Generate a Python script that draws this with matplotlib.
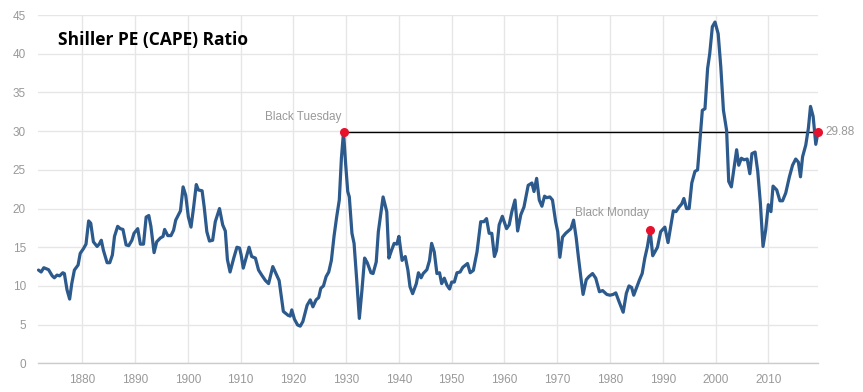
import matplotlib
matplotlib.use("Agg")
import matplotlib.pyplot as plt

plt.rcParams["font.family"] = ["Liberation Sans", "DejaVu Sans"]

years = [1871.7, 1872.2, 1872.7, 1873.6, 1874.3, 1874.7, 1875.2, 1875.7, 1876.3, 1876.6,
         1877.1, 1877.6, 1878.0, 1878.5, 1879.2, 1879.6, 1880.2, 1880.7, 1881.2, 1881.6,
         1882.1, 1882.8, 1883.2, 1883.6, 1884.0, 1884.7, 1885.2, 1885.7, 1886.1, 1886.7,
         1887.2, 1887.7, 1888.3, 1888.8, 1889.4, 1889.8, 1890.5, 1891.0, 1891.6, 1892.1,
         1892.6, 1893.0, 1893.6, 1894.1, 1894.8, 1895.3, 1895.6, 1896.2, 1896.8, 1897.3,
         1897.7, 1898.6, 1899.1, 1899.6, 1900.1, 1900.6, 1901.1, 1901.6, 1902.0, 1902.7,
         1903.1, 1903.6, 1904.1, 1904.7, 1905.2, 1906.0, 1906.6, 1907.1, 1907.5, 1908.0,
         1908.7, 1909.3, 1909.8, 1910.1, 1910.5, 1911.2, 1911.6, 1912.1, 1912.8, 1913.4,
         1914.0, 1914.7, 1915.3, 1916.1, 1916.7, 1917.3, 1918.1, 1919.0, 1919.4, 1919.7,
         1920.2, 1920.8, 1921.3, 1921.8, 1922.6, 1923.2, 1923.7, 1924.3, 1924.8, 1925.2,
         1925.7, 1926.2, 1926.7, 1927.2, 1927.7, 1928.2, 1928.7, 1929.1, 1929.5, 1929.9,
         1930.3, 1930.6, 1931.1, 1931.5, 1932.0, 1932.5, 1933.0, 1933.5, 1934.0, 1934.7,
         1935.1, 1935.7, 1936.1, 1937.0, 1937.7, 1938.1, 1938.6, 1939.1, 1939.6, 1940.0,
         1940.6, 1941.2, 1941.7, 1942.1, 1942.6, 1943.3, 1943.7, 1944.2, 1944.6, 1945.3,
         1945.8, 1946.2, 1946.7, 1947.2, 1947.7, 1948.1, 1948.6, 1949.1, 1949.6, 1950.0,
         1950.5, 1951.0, 1951.6, 1952.1, 1953.0, 1953.5, 1954.1, 1954.8, 1955.5, 1956.1,
         1956.6, 1957.1, 1957.6, 1958.1, 1958.5, 1959.0, 1959.6, 1960.4, 1960.9, 1961.4,
         1962.0, 1962.5, 1963.1, 1963.7, 1964.5, 1965.2, 1965.6, 1966.1, 1966.6, 1967.1,
         1967.6, 1968.0, 1968.6, 1969.1, 1969.7, 1970.1, 1970.5, 1971.0, 1971.6, 1972.1,
         1972.6, 1973.1, 1973.6, 1974.0, 1974.5, 1974.9, 1975.5, 1976.0, 1976.7, 1977.3,
         1978.0, 1978.6, 1979.4, 1980.0, 1980.6, 1981.1, 1981.7, 1982.5, 1983.1, 1983.6,
         1984.1, 1984.5, 1985.1, 1985.6, 1986.1, 1986.6, 1987.1, 1987.6, 1988.1, 1989.0,
         1989.6, 1990.4, 1991.0, 1991.7, 1992.0, 1992.5, 1993.1, 1993.6, 1994.0, 1994.5,
         1995.0, 1995.5, 1996.1, 1996.6, 1997.0, 1997.5, 1998.0, 1998.5, 1998.9, 1999.4,
         1999.9, 2000.5, 2001.0, 2001.5, 2002.1, 2002.5, 2003.0, 2003.5, 2004.0, 2004.4,
         2004.9, 2005.4, 2006.0, 2006.5, 2006.9, 2007.5, 2008.0, 2008.5, 2009.0, 2009.5,
         2010.0, 2010.5, 2010.9, 2011.6, 2012.2, 2012.7, 2013.3, 2014.0, 2014.6, 2015.2,
         2015.7, 2016.1, 2016.5, 2017.1, 2017.6, 2018.0, 2018.5, 2019.0, 2019.42]

cape = [12.05, 11.8, 12.35, 12.1, 11.3, 11.05, 11.4, 11.3, 11.7, 11.6,
        9.5, 8.3, 10.3, 12.05, 12.7, 14.2, 14.8, 15.4, 18.4, 18.1,
        15.7, 15.1, 15.4, 15.9, 14.6, 13.0, 13.0, 14.0, 16.4, 17.7,
        17.4, 17.3, 15.3, 15.2, 15.9, 16.8, 17.4, 15.4, 15.4, 18.9,
        19.1, 17.7, 14.3, 15.7, 16.2, 16.4, 17.3, 16.5, 16.5, 17.2,
        18.5, 19.7, 22.8, 21.7, 18.9, 17.6, 20.2, 23.1, 22.4, 22.3,
        20.2, 17.0, 15.8, 15.9, 18.3, 20.0, 17.9, 17.1, 13.4, 11.8,
        13.6, 15.0, 14.9, 14.0, 12.3, 14.0, 15.0, 13.8, 13.6, 12.05,
        11.4, 10.7, 10.3, 12.5, 11.6, 10.7, 6.7, 6.2, 6.1, 6.9,
        5.7, 4.95, 4.8, 5.4, 7.5, 8.2, 7.3, 8.2, 8.5, 9.7,
        10.0, 11.2, 11.8, 13.3, 16.4, 18.9, 21.1, 26.5, 29.88, 25.8,
        22.2, 21.5, 16.8, 15.5, 10.8, 5.8, 9.5, 13.6, 13.0, 11.7,
        11.6, 13.1, 17.0, 21.5, 19.6, 13.6, 14.6, 15.5, 15.4, 16.4,
        13.3, 13.8, 12.05, 9.9, 9.0, 10.3, 11.7, 11.05, 11.6, 12.1,
        13.3, 15.5, 14.4, 11.6, 11.7, 10.3, 11.0, 10.1, 9.6, 10.5,
        10.5, 11.7, 11.8, 12.4, 12.9, 11.7, 12.0, 14.4, 18.3, 18.3,
        18.7, 16.8, 16.8, 13.8, 14.6, 17.9, 19.0, 17.4, 17.9, 19.6,
        21.1, 17.1, 19.2, 20.2, 23.0, 23.3, 22.2, 23.9, 21.1, 20.3,
        21.6, 21.4, 21.5, 21.1, 18.3, 17.0, 13.7, 16.3, 16.8, 17.1,
        17.4, 18.5, 16.2, 13.8, 11.0, 8.9, 10.8, 11.2, 11.6, 11.0,
        9.25, 9.4, 8.9, 8.8, 8.9, 9.1, 8.0, 6.6, 9.05, 10.0,
        9.8, 8.8, 9.9, 10.8, 11.6, 13.6, 15.1, 17.2, 13.9, 15.0,
        17.0, 17.6, 15.6, 18.5, 19.7, 19.6, 20.2, 20.6, 21.3, 20.0,
        20.0, 23.3, 24.8, 25.0, 28.4, 32.7, 32.9, 38.1, 40.0, 43.5,
        44.1, 42.6, 38.3, 32.7, 30.1, 23.5, 22.8, 25.2, 27.6, 25.6,
        26.5, 26.3, 26.4, 24.5, 27.1, 27.3, 24.8, 20.7, 15.1, 17.2,
        20.5, 19.6, 22.9, 22.4, 21.0, 21.0, 22.0, 24.1, 25.6, 26.4,
        26.0, 24.1, 26.7, 28.2, 30.4, 33.2, 31.9, 28.3, 29.88]

x_ticks = [1880, 1890, 1900, 1910, 1920, 1930, 1940, 1950, 1960, 1970, 1980, 1990, 2000, 2010]
y_ticks = [0, 5, 10, 15, 20, 25, 30, 35, 40, 45]

events = ["Black Tuesday", "Black Monday"]
event_years = [1929.5, 1987.6]
event_values = [29.88, 17.2]
last_label = "29.88"
title = "Shiller PE (CAPE) Ratio"

fig = plt.figure(figsize=(8.63, 3.92), dpi=100)
ax = fig.add_axes([38.3 / 863, 1 - 363.3 / 392, (818 - 38.3) / 863, (363.3 - 15.1) / 392])

ax.set_xlim(1871.66, 2019.42)
ax.set_ylim(0, 45)
ax.set_xticks(x_ticks)
ax.set_yticks(y_ticks)
ax.grid(True, color="#e6e6e6", linewidth=1)
ax.set_axisbelow(True)
for s in ["top", "right", "left"]:
    ax.spines[s].set_visible(False)
ax.spines["bottom"].set_color("#cccccc")
ax.spines["bottom"].set_linewidth(1)
ax.tick_params(axis="both", length=0, labelsize=8.5, labelcolor="#999999")
ax.tick_params(axis="x", pad=8)
ax.tick_params(axis="y", pad=9)

ax.plot(years, cape, color="#2c5a8c", linewidth=2.3, solid_joinstyle="round",
        solid_capstyle="round", clip_on=False, zorder=3)

# horizontal reference line from Black Tuesday to today
ax.plot([event_years[0], years[-1]], [event_values[0], cape[-1]], color="black",
        linewidth=1, zorder=2, clip_on=False)

ax.scatter(event_years + [years[-1]], event_values + [cape[-1]], s=30, color="#e8102a",
           zorder=4, clip_on=False)

ax.text(event_years[0] - 0.4, event_values[0] + 2.0, events[0], ha="right", va="center",
        fontsize=8.5, color="#999999")
ax.text(event_years[1] - 0.2, event_values[1] + 2.2, events[1], ha="right", va="center",
        fontsize=8.5, color="#999999")
ax.annotate(last_label, xy=(years[-1], cape[-1]), xytext=(5.5, 0), textcoords="offset points",
            ha="left", va="center", fontsize=8.5, color="#999999", annotation_clip=False)

fig.text(58 / 863, 1 - 40 / 392, title, ha="left", va="center", fontsize=12.5,
         fontweight="bold", family="Open Sans", color="black")

fig.savefig("out.png", dpi=100)
